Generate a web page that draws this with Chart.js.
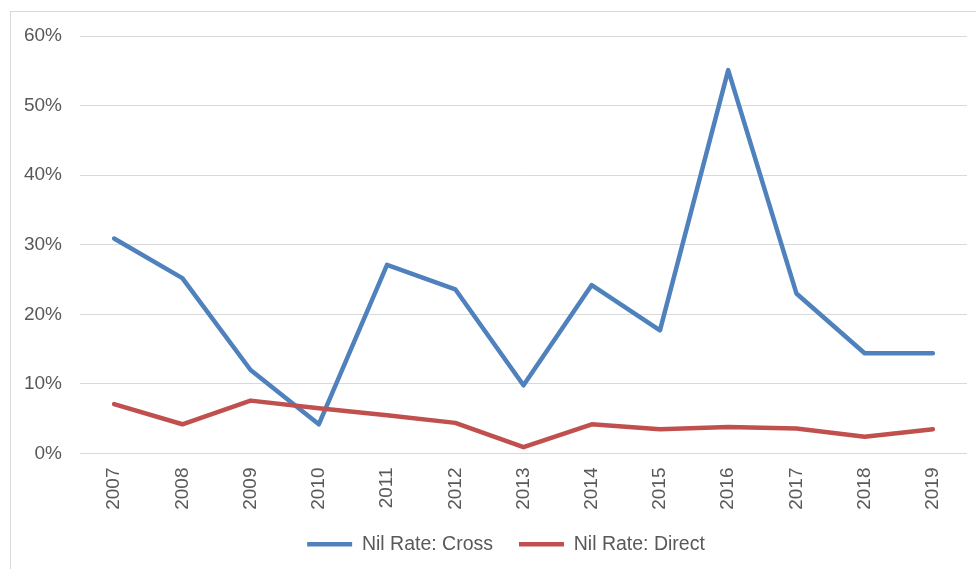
<!DOCTYPE html>
<html>
<head>
<meta charset="utf-8">
<script src="https://cdn.jsdelivr.net/npm/chart.js@4/dist/chart.umd.min.js"></script>
<style>
  html, body { margin: 0; padding: 0; background: #fff; overflow: hidden; }
  #cadre { position: absolute; left: 10px; top: 11px; width: 1100px; height: 700px; border: 1px solid #d9d9d9; }
  #zone { position: absolute; left: 0; top: 0; width: 976px; height: 569px; }
</style>
</head>
<body>
<div id="cadre"></div>
<div id="zone"><canvas id="graphique"></canvas></div>
<script>
// valeurs (en %)
const annees = ["2007","2008","2009","2010","2011","2012","2013","2014","2015","2016","2017","2018","2019"];
const tauxCross = [30.9, 25.2, 12.0, 4.2, 27.1, 23.6, 9.8, 24.2, 17.7, 55.1, 23.0, 14.4, 14.4];
const tauxDirect = [7.1, 4.2, 7.6, 6.5, 5.5, 4.4, 0.9, 4.2, 3.5, 3.8, 3.6, 2.4, 3.5];
const ticksY = [0, 10, 20, 30, 40, 50, 60];

const police = "'Liberation Sans', Arial, sans-serif";
const gris = "#595959";

const data = {
    labels: annees,
    datasets: [{
        label: "Nil Rate: Cross",
        data: tauxCross,
        borderColor: "#4F81BD",
        backgroundColor: "#4F81BD",
        borderWidth: 4.5,
        order: 1
    }, {
        label: "Nil Rate: Direct",
        data: tauxDirect,
        borderColor: "#C0504D",
        backgroundColor: "#C0504D",
        borderWidth: 4.5,
        order: 0
    }]
};

const config = {
    type: "line",
    data: data,
    options: {
        responsive: false,
        animation: false,
        // marge gauche plus large pour recentrer la légende comme dans Excel
        layout: { padding: { top: 36, right: 9, bottom: 5, left: 45 } },
        elements: {
            line: { tension: 0, borderCapStyle: "round", borderJoinStyle: "round" },
            point: { radius: 0 }
        },
        plugins: {
            tooltip: { enabled: false },
            legend: {
                position: "bottom",
                labels: {
                    usePointStyle: true,
                    pointStyle: "line",
                    pointStyleWidth: 45,
                    color: gris,
                    font: { family: police, size: 19.5 },
                    padding: 26,
                    sort: (a, b) => a.datasetIndex - b.datasetIndex
                }
            }
        },
        scales: {
            x: {
                offset: true,
                grid: { display: false, drawTicks: false, offset: true },
                border: { display: false },
                ticks: {
                    color: gris,
                    font: { family: police, size: 19 },
                    minRotation: 90,
                    maxRotation: 90,
                    padding: 14
                },
                afterFit: (scale) => {
                    scale.height = 55;
                    scale._computeLabelArea = () => undefined;
                }
            },
            y: {
                min: 0,
                max: 60,
                afterBuildTicks: (scale) => { scale.ticks = ticksY.map(v => ({ value: v })); },
                grid: { color: "#d9d9d9", lineWidth: 1, drawTicks: false },
                border: { display: false },
                ticks: {
                    color: gris,
                    font: { family: police, size: 19 },
                    padding: 18,
                    callback: (v) => v + "%"
                },
                afterFit: (scale) => {
                    scale.width = 35;
                    // pas de découpe des étiquettes, elles dépassent à gauche de l'axe
                    scale._computeLabelArea = () => undefined;
                }
            }
        }
    }
};

const canvas = document.getElementById("graphique");
canvas.width = 976;
canvas.height = 569;
new Chart(canvas, config);
</script>
</body>
</html>
